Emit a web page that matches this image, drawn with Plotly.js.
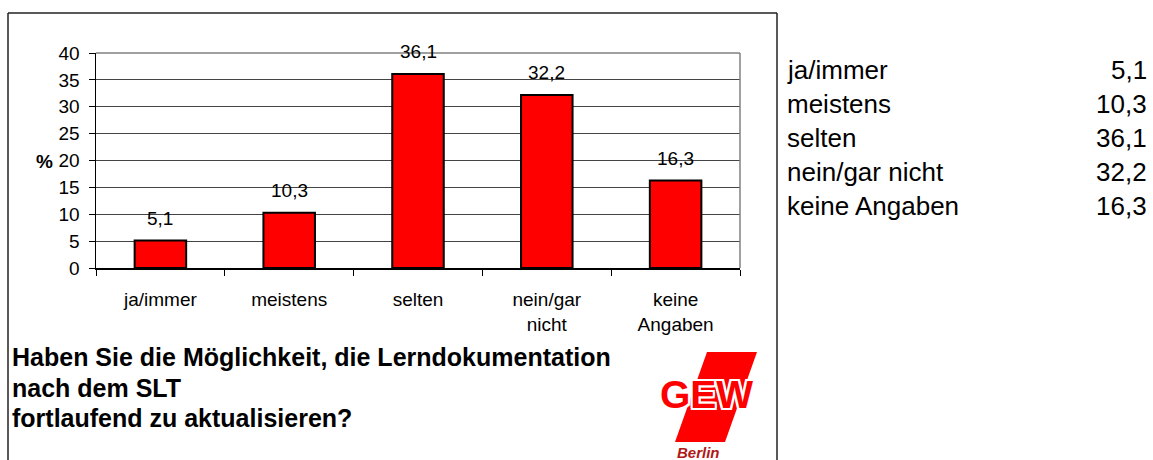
<!DOCTYPE html>
<html>
<head>
<meta charset="utf-8">
<script src="https://cdn.plot.ly/plotly-3.0.1.min.js"></script>
<style>html,body{margin:0;padding:0;background:#fff;}#chart{width:1153px;height:460px;}</style>
</head>
<body>
<div id="chart"></div>
<script>
// ---- data ----
const categories = ["ja/immer", "meistens", "selten", "nein/gar nicht", "keine Angaben"];
const tickLabels = ["ja/immer", "meistens", "selten", "nein/gar<br>nicht", "keine<br>Angaben"];
const values = [5.1, 10.3, 36.1, 32.2, 16.3];
const yTicks = [0, 5, 10, 15, 20, 25, 30, 35, 40];
const titleLines = ["Haben Sie die Möglichkeit, die Lerndokumentation", "nach dem SLT", "fortlaufend zu aktualisieren?"];
const yAxisLabel = "%";
const logoText = "GEW";
const logoSub = "Berlin";

// ---- layout helpers (pixel -> paper) ----
const W = 1153, H = 460;
const px = x => x / W;
const py = y => 1 - y / H;
const FONT = "Liberation Sans, Arial, sans-serif";
const fmt = v => v.toFixed(1).replace('.', ',');

const plotL = 96, plotR = 740, plotT = 53, plotB = 268;

const annotations = [];
// value labels above bars
categories.forEach((c, i) => {
  annotations.push({x: c, y: values[i], xref: 'x', yref: 'y', text: fmt(values[i]),
    showarrow: false, yanchor: 'middle', yshift: 22, font: {family: FONT, size: 19, color: '#000'}});
});
// % label
annotations.push({x: px(44), y: py(161), xref: 'paper', yref: 'paper', text: '<b>' + yAxisLabel + '</b>',
  showarrow: false, xanchor: 'center', yanchor: 'middle', font: {family: FONT, size: 19, color: '#000'}});
// title lines
const titleY = [357, 388, 418];
titleLines.forEach((t, i) => {
  annotations.push({x: px(10), y: py(titleY[i]), xref: 'paper', yref: 'paper', text: '<b>' + t + '</b>',
    showarrow: false, xanchor: 'left', yanchor: 'middle', font: {family: FONT, size: 25, color: '#000'}});
});
// side table
const rowY = [70, 104, 138, 172, 206];
categories.forEach((c, i) => {
  annotations.push({x: px(785), y: py(rowY[i]), xref: 'paper', yref: 'paper', text: c,
    showarrow: false, xanchor: 'left', yanchor: 'middle', font: {family: FONT, size: 26, color: '#000'}});
  annotations.push({x: px(1149), y: py(rowY[i]), xref: 'paper', yref: 'paper', text: fmt(values[i]),
    showarrow: false, xanchor: 'right', yanchor: 'middle', font: {family: FONT, size: 26, color: '#000'}});
});
// logo text
annotations.push({x: px(706), y: py(394), xref: 'paper', yref: 'paper', text: '<b>' + logoText + '</b>',
  showarrow: false, xanchor: 'center', yanchor: 'middle',
  font: {family: FONT, size: 39, color: '#ff0000',
    shadow: '2px 0 0 #fff, -2px 0 0 #fff, 0 2px 0 #fff, 0 -2px 0 #fff, 2px 2px 0 #fff, -2px -2px 0 #fff, 2px -2px 0 #fff, -2px 2px 0 #fff'}});
annotations.push({x: px(698), y: py(452), xref: 'paper', yref: 'paper', text: '<b><i>' + logoSub + '</i></b>',
  showarrow: false, xanchor: 'center', yanchor: 'middle', font: {family: FONT, size: 15, color: '#b01818'}});

const shapes = [
  // outer frame
  {type: 'line', xref: 'paper', yref: 'paper', x0: px(8), x1: px(8), y0: py(13), y1: py(470), line: {color: '#222', width: 1.5}},
  {type: 'line', xref: 'paper', yref: 'paper', x0: px(8), x1: px(777), y0: py(13), y1: py(13), line: {color: '#222', width: 1.5}},
  {type: 'line', xref: 'paper', yref: 'paper', x0: px(777), x1: px(777), y0: py(13), y1: py(470), line: {color: '#222', width: 1.5}},
  // plot area top/right border (gray)
  {type: 'line', xref: 'paper', yref: 'paper', x0: px(plotL), x1: px(plotR), y0: py(plotT), y1: py(plotT), line: {color: '#808080', width: 1.5}},
  {type: 'line', xref: 'paper', yref: 'paper', x0: px(plotR), x1: px(plotR), y0: py(plotT), y1: py(plotB), line: {color: '#808080', width: 1.5}},
  // logo parallelogram
  {type: 'path', xref: 'paper', yref: 'paper', layer: 'below',
    path: `M ${px(707)} ${py(352)} L ${px(757)} ${py(352)} L ${px(725)} ${py(442)} L ${px(675)} ${py(442)} Z`,
    fillcolor: '#ff0000', line: {width: 0}}
];

const trace = {
  type: 'bar', x: categories, y: values, width: 0.4,
  marker: {color: '#ff0000', line: {color: '#000', width: 2}},
  hoverinfo: 'x+y'
};

const layout = {
  width: W, height: H,
  margin: {l: 0, r: 0, t: 0, b: 0},
  paper_bgcolor: '#fff', plot_bgcolor: '#fff',
  showlegend: false,
  font: {family: FONT, size: 19, color: '#000'},
  xaxis: {
    domain: [px(plotL), px(plotR)],
    type: 'category', tickmode: 'array', tickvals: categories, ticktext: tickLabels,
    tickson: 'boundaries', ticks: 'outside', ticklen: 6, tickcolor: '#000', tickwidth: 1,
    showline: true, linecolor: '#000', linewidth: 1.5, showgrid: false, zeroline: false,
    tickfont: {family: FONT, size: 19, color: '#000'}, ticklabelstandoff: 14,
    fixedrange: true
  },
  yaxis: {
    domain: [py(plotB), py(plotT)],
    range: [0, 40], tickmode: 'array', tickvals: yTicks,
    ticks: 'outside', ticklen: 6, tickcolor: '#000', tickwidth: 1,
    showline: true, linecolor: '#000', linewidth: 1.5,
    showgrid: true, gridcolor: '#444', gridwidth: 1, zeroline: false,
    tickfont: {family: FONT, size: 19, color: '#000'}, ticklabelstandoff: 5,
    fixedrange: true
  },
  annotations: annotations,
  shapes: shapes
};

Plotly.newPlot('chart', [trace], layout, {displayModeBar: false, staticPlot: true});
</script>
</body>
</html>
